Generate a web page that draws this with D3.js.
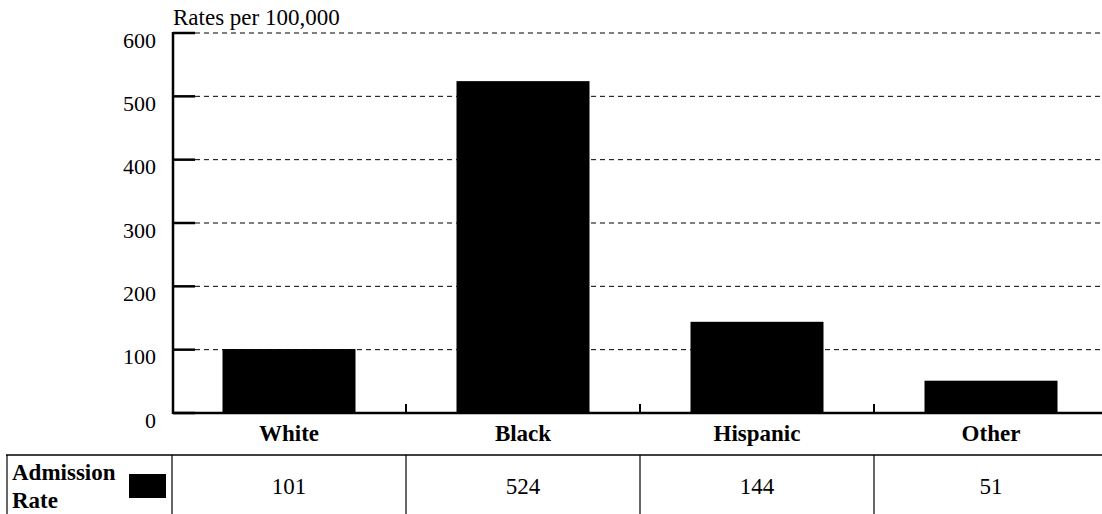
<!DOCTYPE html>
<html>
<head>
<meta charset="utf-8">
<script src="https://cdn.jsdelivr.net/npm/d3@7"></script>
<style>
  body { margin: 0; background: #fff; }
  svg { display: block; }
  text { font-family: "Liberation Serif", "DejaVu Serif", serif; }
</style>
</head>
<body>
<svg id="chart" width="1102" height="514"></svg>
<script>
var categories = ["White", "Black", "Hispanic", "Other"];
var admissionRate = [101, 524, 144, 51];
var yTicks = [0, 100, 200, 300, 400, 500, 600];
var seriesName = ["Admission", "Rate"];
var axisTitle = "Rates per 100,000";

var svg = d3.select("#chart");
var plotLeft = 173, plotRight = 1109, plotTop = 33, plotBottom = 413;

var x = d3.scaleBand().domain(categories).range([plotLeft, plotRight]);
var y = d3.scaleLinear().domain([0, 600]).range([plotBottom, plotTop]);

// dashed grid lines
svg.append("g").selectAll("line")
  .data(yTicks.filter(function(d){ return d > 0; }))
  .enter().append("line")
  .attr("x1", plotLeft + 22).attr("x2", 1102)
  .attr("y1", function(d){ return y(d); })
  .attr("y2", function(d){ return y(d); })
  .attr("stroke", "#000")
  .attr("stroke-width", 1)
  .attr("stroke-dasharray", "5,4");

// bars
var barW = 133;
svg.append("g").selectAll("rect")
  .data(admissionRate)
  .enter().append("rect")
  .attr("x", function(d, i){ return x(categories[i]) + x.bandwidth() / 2 - barW / 2 - 1; })
  .attr("y", function(d){ return y(d); })
  .attr("width", barW)
  .attr("height", function(d){ return plotBottom - y(d); })
  .attr("fill", "#000");

// y axis, ticks point inward
var yAxis = svg.append("g");
yAxis.append("line")
  .attr("x1", plotLeft).attr("x2", plotLeft)
  .attr("y1", plotTop - 1).attr("y2", plotBottom + 1)
  .attr("stroke", "#000").attr("stroke-width", 2.5);
yAxis.selectAll("line.tick")
  .data(yTicks)
  .enter().append("line")
  .attr("class", "tick")
  .attr("x1", plotLeft).attr("x2", plotLeft + 22)
  .attr("y1", function(d){ return y(d); })
  .attr("y2", function(d){ return y(d); })
  .attr("stroke", "#000").attr("stroke-width", 2.5);
yAxis.selectAll("text")
  .data(yTicks)
  .enter().append("text")
  .attr("x", 156)
  .attr("y", function(d){ return y(d) + 14.5; })
  .attr("text-anchor", "end")
  .attr("font-size", 22)
  .text(function(d){ return d; });

svg.append("text")
  .attr("x", plotLeft).attr("y", 25)
  .attr("font-size", 23)
  .text(axisTitle);

// x axis
svg.append("line")
  .attr("x1", plotLeft).attr("x2", 1102)
  .attr("y1", plotBottom).attr("y2", plotBottom)
  .attr("stroke", "#000").attr("stroke-width", 2.5);
svg.append("g").selectAll("line")
  .data(categories.slice(1))
  .enter().append("line")
  .attr("x1", function(d){ return x(d) - 1; })
  .attr("x2", function(d){ return x(d) - 1; })
  .attr("y1", plotBottom).attr("y2", plotBottom - 9)
  .attr("stroke", "#000").attr("stroke-width", 2);
svg.append("g").selectAll("text")
  .data(categories)
  .enter().append("text")
  .attr("x", function(d){ return x(d) + x.bandwidth() / 2 - 1; })
  .attr("y", 441)
  .attr("text-anchor", "middle")
  .attr("font-size", 23)
  .attr("font-weight", "bold")
  .text(function(d){ return d; });

// data table
var table = svg.append("g");
table.append("line")
  .attr("x1", 6).attr("x2", 1102)
  .attr("y1", 455).attr("y2", 455)
  .attr("stroke", "#000").attr("stroke-width", 1.5);
var colEdges = [7].concat(categories.map(function(d){ return x(d) - 1; }));
table.selectAll("line.col")
  .data(colEdges)
  .enter().append("line")
  .attr("class", "col")
  .attr("x1", function(d){ return d; })
  .attr("x2", function(d){ return d; })
  .attr("y1", 455).attr("y2", 514)
  .attr("stroke", "#000").attr("stroke-width", 1.2);
table.selectAll("text.val")
  .data(admissionRate)
  .enter().append("text")
  .attr("class", "val")
  .attr("x", function(d, i){ return x(categories[i]) + x.bandwidth() / 2 - 1; })
  .attr("y", 494)
  .attr("text-anchor", "middle")
  .attr("font-size", 23)
  .text(function(d){ return d; });
table.selectAll("text.name")
  .data(seriesName)
  .enter().append("text")
  .attr("class", "name")
  .attr("x", 12)
  .attr("y", function(d, i){ return 480 + i * 28; })
  .attr("font-size", 23)
  .attr("font-weight", "bold")
  .text(function(d){ return d; });
table.append("rect")
  .attr("x", 129).attr("y", 474)
  .attr("width", 37).attr("height", 24)
  .attr("fill", "#000");
</script>
</body>
</html>
